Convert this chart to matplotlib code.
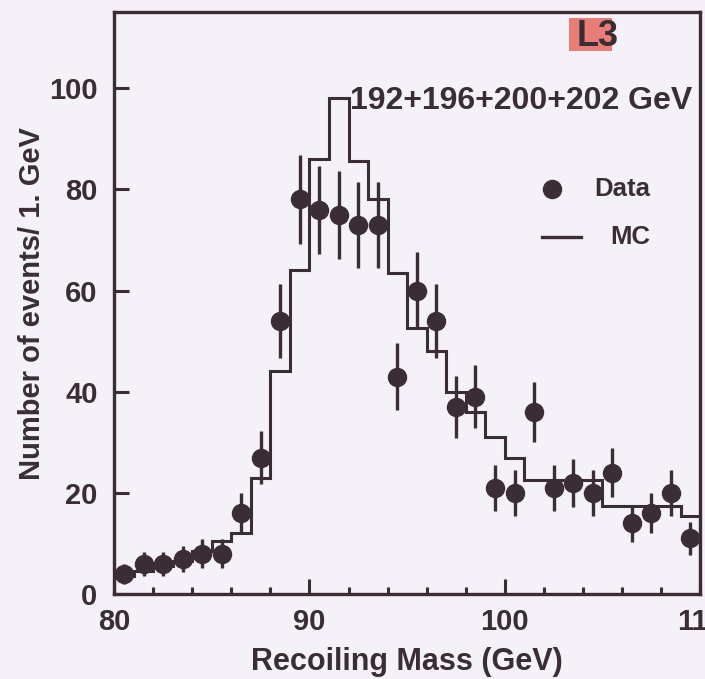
import numpy as np
import matplotlib
matplotlib.use('Agg')
import matplotlib.pyplot as plt
from matplotlib.patches import Rectangle

# recoil mass spectrum, 1 GeV bins from 80 to 110 GeV
bin_edges = np.arange(80, 111, 1)
data_counts = [4, 6, 6, 7, 8, 8, 16, 27, 54, 78, 76, 75, 73, 73, 43, 60, 54, 37, 39, 21,
               20, 36, 21, 22, 20, 24, 14, 16, 20, 11]
data_errors = [2.0, 2.4, 2.4, 2.6, 2.8, 2.8, 4.0, 5.2, 7.3, 8.8, 8.7, 8.7, 8.5, 8.5, 6.6, 7.7,
               7.3, 6.1, 6.2, 4.6, 4.5, 6.0, 4.6, 4.7, 4.5, 4.9, 3.7, 4.0, 4.5, 3.3]
mc_counts = [3.5, 4.5, 5.5, 6.5, 8.5, 10.5, 12, 23, 44, 64, 86, 98, 85.5, 78, 63.5, 52.5,
             48, 40, 36, 31, 27, 22.5, 22.5, 22.5, 22.5, 17.5, 17.5, 17.5, 17.5, 15.5]

ink = '#3a2d36'
paper = '#f4f1f8'

plt.rcParams['font.family'] = ['Liberation Sans', 'DejaVu Sans']
plt.rcParams['font.weight'] = 'bold'

fig = plt.figure(figsize=(7.05, 6.79), dpi=100, facecolor=paper)
ax = fig.add_axes([0.162, 0.125, 0.831, 0.857], facecolor=paper)

centers = 0.5 * (bin_edges[:-1] + bin_edges[1:])

# MC as a step histogram
ax.stairs(mc_counts, bin_edges, color=ink, linewidth=2.2, zorder=2)

# data points with statistical errors
ax.errorbar(centers, data_counts, yerr=data_errors, fmt='o', color=ink, markersize=13,
            elinewidth=2.4, capsize=0, zorder=3)

ax.set_xlim(80, 110)
ax.set_ylim(0, 115)
ax.set_xticks([80, 90, 100, 110])
ax.set_xticklabels(['80', '90', '100', '110'])
ax.set_xticks(np.arange(82, 110, 2), minor=True)
ax.set_yticks([0, 20, 40, 60, 80, 100])
ax.tick_params(axis='both', which='major', direction='in', length=11, width=2.2,
               labelsize=21, colors=ink, top=False, right=False)
ax.tick_params(axis='x', which='minor', direction='in', length=5, width=2.2, colors=ink)
ax.tick_params(axis='x', which='major', pad=10)
ax.tick_params(axis='y', which='major', pad=12)
for spine in ax.spines.values():
    spine.set_linewidth(2.4)
    spine.set_color(ink)

ax.set_xlabel('Recoiling Mass (GeV)', fontsize=22, fontweight='bold', color=ink, labelpad=8)
ax.set_ylabel('Number of events/ 1. GeV', fontsize=21, fontweight='bold', color=ink, labelpad=2)

ax.text(92.05, 97.5, '192+196+200+202 GeV', fontsize=23, fontweight='bold', color=ink,
        ha='left', va='center')

# legend drawn by hand
ax.plot([102.4], [80], 'o', color=ink, markersize=13)
ax.text(104.6, 80, 'Data', fontsize=18.5, fontweight='bold', color=ink, va='center')
ax.plot([101.9, 103.9], [70.5, 70.5], color=ink, linewidth=2.4)
ax.text(105.4, 70.5, 'MC', fontsize=18.5, fontweight='bold', color=ink, va='center')

# experiment tag in the corner
ax.add_patch(Rectangle((103.3, 107.3), 2.2, 6.5, facecolor='#e8706a', edgecolor='none',
                       alpha=0.9, zorder=1))
ax.text(103.7, 110.3, 'L3', fontsize=26, fontweight='bold', color=ink, va='center',
        ha='left', zorder=2)

fig.savefig('out.png', dpi=100, facecolor=paper)
